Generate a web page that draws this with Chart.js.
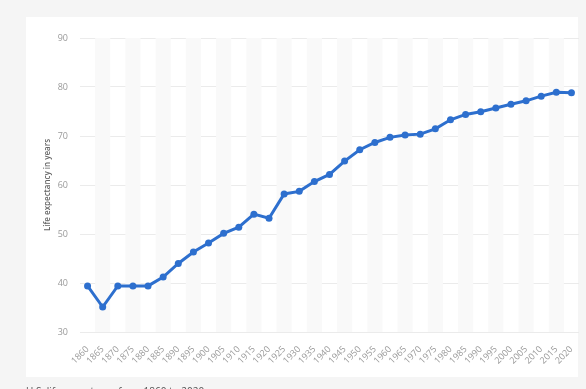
<!DOCTYPE html>
<html>
<head>
<meta charset="utf-8">
<script src="https://cdn.jsdelivr.net/npm/chart.js@4.4.1/dist/chart.umd.min.js"></script>
<style>
  html, body { margin: 0; padding: 0; background: #f5f5f5; width: 586px; height: 389px; overflow: hidden; }
  #card { position: absolute; left: 26px; top: 17px; width: 552px; height: 360px; background: #fff; }
  #wrap { position: absolute; left: 0; top: 0; width: 586px; height: 389px; }
  #caption { position: absolute; left: 26px; top: 384px; font: 10px "Open Sans", sans-serif; color: #555; white-space: nowrap; }
</style>
</head>
<body>
<div id="card"></div>
<div id="wrap"><canvas id="chart" width="586" height="389"></canvas></div>
<div id="caption">U.S. life expectancy from 1860 to 2020</div>
<script>
// years along the x axis
var years = ['1860','1865','1870','1875','1880','1885','1890','1895','1900','1905','1910',
  '1915','1920','1925','1930','1935','1940','1945','1950','1955','1960','1965',
  '1970','1975','1980','1985','1990','1995','2000','2005','2010','2015','2020'];

// life expectancy at birth, years
var lifeExp = [39.41, 35.1, 39.41, 39.41, 39.41, 41.2, 43.98, 46.34, 48.15, 50.13, 51.38,
  54.05, 53.21, 58.18, 58.7, 60.71, 62.15, 64.88, 67.2, 68.68, 69.72, 70.2,
  70.38, 71.46, 73.31, 74.4, 74.96, 75.7, 76.47, 77.18, 78.13, 78.94, 78.81];

var yTicks = [30, 40, 50, 60, 70, 80, 90];

// faint grey stripes behind every second year
var stripes = {
    id: 'stripes',
    beforeDatasetsDraw: function(chart) {
        var ctx = chart.ctx, x = chart.scales.x, area = chart.chartArea;
        var half = (x.getPixelForValue(1) - x.getPixelForValue(0)) / 2;
        ctx.save();
        ctx.fillStyle = '#f9f9f9';
        for (var i = 1; i < years.length; i += 2) {
            var px = x.getPixelForValue(i);
            ctx.fillRect(px - half, area.top, half * 2, area.bottom - area.top);
        }
        ctx.restore();
    }
};

var ctx = document.getElementById('chart').getContext('2d');

var chart = new Chart(ctx, {
    type: 'line',
    data: {
        labels: years,
        datasets: [{
            label: 'Life expectancy',
            data: lifeExp,
            borderColor: '#2d6fce',
            backgroundColor: '#2d6fce',
            borderWidth: 3,
            pointRadius: 3.5,
            pointBorderWidth: 0,
            tension: 0
        }]
    },
    options: {
        responsive: false,
        animation: false,
        layout: { padding: { left: 40, top: 38, right: 7, bottom: 0 } },
        plugins: {
            legend: { display: false },
            tooltip: { enabled: false }
        },
        scales: {
            x: {
                offset: true,
                grid: { display: false },
                border: { display: false },
                ticks: {
                    minRotation: 45,
                    maxRotation: 45,
                    autoSkip: false,
                    padding: 4,
                    color: '#999',
                    font: { family: 'Open Sans', size: 9 }
                },
                afterFit: function(scale) { scale.height = 57; }
            },
            y: {
                min: 30,
                max: 90,
                afterBuildTicks: function(scale) {
                    scale.ticks = yTicks.map(function(v) { return { value: v }; });
                },
                grid: { color: '#ebebeb', drawTicks: false },
                border: { display: false },
                ticks: {
                    padding: 12,
                    color: '#999',
                    font: { family: 'Open Sans', size: 9 }
                },
                title: {
                    display: true,
                    text: 'Life expectancy in years',
                    color: '#666',
                    padding: { top: 3, bottom: 0 },
                    font: { family: 'Open Sans', size: 8, weight: '600' }
                },
                afterFit: function(scale) { scale.width = 40; }
            }
        }
    },
    plugins: [stripes]
});
</script>
</body>
</html>
